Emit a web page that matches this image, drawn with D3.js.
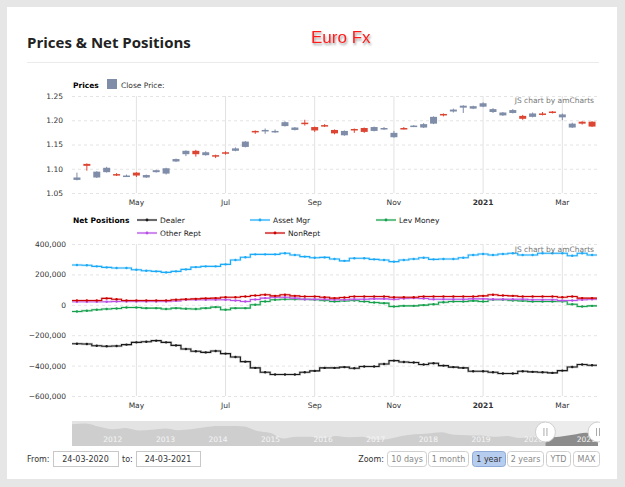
<!DOCTYPE html>
<html>
<head>
<meta charset="utf-8">
<script src="https://cdn.jsdelivr.net/npm/d3@7"></script>
<style>
body { margin: 0; background: #e6e6e6; }
svg { display: block; font-family: "DejaVu Sans", Verdana, sans-serif; }
</style>
</head>
<body>
<svg id="chart" width="625" height="487"></svg>
<script>
// weekly categories (week start, Monday)
const weeks = d3.timeMonday.range(new Date(2020, 2, 23), new Date(2021, 2, 23, 1));

const tickDates = ["2020-05-04", "2020-07-06", "2020-09-07", "2020-11-02", "2021-01-04", "2021-03-01"];
const tickLabels = ["May", "Jul", "Sep", "Nov", "2021", "Mar"];

const priceTicks = [1.05, 1.10, 1.15, 1.20, 1.25];
const netTicks = [-600000, -400000, -200000, 0, 200000, 400000];

// weekly candles
const open  = [1.077,1.110,1.082,1.093,1.089,1.084,1.092,1.082,1.093,1.090,1.115,1.130,1.137,1.128,1.128,1.134,1.137,1.145,1.178,1.178,1.176,1.188,1.180,1.195,1.186,1.190,1.180,1.169,1.182,1.184,1.178,1.182,1.165,1.184,1.187,1.185,1.193,1.213,1.218,1.226,1.224,1.228,1.217,1.210,1.215,1.209,1.207,1.214,1.218,1.206,1.185,1.197,1.197];
const high  = [1.092,1.111,1.095,1.104,1.091,1.088,1.093,1.088,1.098,1.102,1.121,1.138,1.139,1.136,1.129,1.136,1.144,1.157,1.179,1.183,1.181,1.198,1.186,1.201,1.187,1.192,1.181,1.179,1.183,1.185,1.187,1.186,1.178,1.186,1.190,1.194,1.208,1.214,1.224,1.231,1.230,1.237,1.225,1.217,1.223,1.211,1.216,1.217,1.219,1.214,1.195,1.198,1.198];
const low   = [1.076,1.096,1.081,1.092,1.085,1.083,1.083,1.081,1.092,1.088,1.114,1.126,1.125,1.127,1.122,1.129,1.136,1.144,1.172,1.172,1.174,1.187,1.179,1.189,1.176,1.186,1.171,1.168,1.174,1.174,1.177,1.180,1.164,1.181,1.186,1.184,1.192,1.208,1.216,1.215,1.223,1.227,1.215,1.209,1.214,1.201,1.206,1.210,1.214,1.200,1.184,1.191,1.186];
const close = [1.082,1.106,1.094,1.102,1.087,1.086,1.086,1.087,1.097,1.101,1.120,1.137,1.130,1.134,1.126,1.131,1.142,1.156,1.175,1.180,1.178,1.196,1.185,1.192,1.179,1.188,1.173,1.178,1.179,1.176,1.186,1.184,1.174,1.182,1.189,1.192,1.207,1.211,1.222,1.230,1.229,1.235,1.223,1.216,1.221,1.203,1.214,1.212,1.215,1.212,1.193,1.193,1.187];

// net positions, thousands of contracts
const dealer    = [-256,-258,-269,-273,-271,-262,-247,-243,-236,-247,-267,-291,-306,-313,-304,-321,-343,-374,-415,-444,-459,-459,-459,-444,-435,-415,-415,-410,-417,-406,-406,-389,-367,-376,-380,-393,-385,-400,-410,-415,-437,-437,-444,-452,-452,-437,-441,-444,-448,-433,-409,-393,-398];
const assetMgr  = [262,260,253,246,242,242,231,224,220,213,220,233,248,253,253,266,295,313,332,332,332,339,328,317,310,312,301,289,306,306,299,295,284,295,301,310,299,301,301,310,328,334,328,334,339,328,328,339,339,339,323,339,328];
const levMoney  = [-44,-39,-33,-28,-24,-18,-18,-22,-22,-28,-22,-26,-28,-22,-15,-33,-22,-22,0,22,33,37,37,37,33,28,22,26,28,22,15,11,-11,-7,-7,-2,4,17,22,22,26,22,33,33,28,26,22,22,22,22,4,-11,-7];
const otherRept = [20,20,20,20,22,22,22,22,22,22,26,33,33,33,33,33,28,22,35,44,50,50,44,37,37,37,33,33,37,37,39,39,37,41,44,41,37,37,37,37,39,39,37,37,37,37,33,33,33,28,28,33,37];
const nonRept   = [28,28,28,42,37,28,28,28,28,28,33,37,39,42,44,50,50,55,61,66,59,66,59,55,55,50,44,48,55,55,55,55,50,50,50,55,55,55,55,55,55,59,66,61,59,55,55,55,55,50,55,44,44];

const seriesNames = ["Dealer", "Asset Mgr", "Lev Money", "Other Rept", "NonRept"];

// navigator: quarterly close, 2011-2021
const navDates = ["2011-03-24","2011-06-30","2011-09-30","2011-12-30","2012-03-30","2012-06-29","2012-09-28","2012-12-31","2013-03-29","2013-06-28","2013-09-30","2013-12-31","2014-03-31","2014-06-30","2014-09-30","2014-12-31","2015-03-31","2015-06-30","2015-09-30","2015-12-31","2016-03-31","2016-06-30","2016-09-30","2016-12-30","2017-03-31","2017-06-30","2017-09-29","2017-12-29","2018-03-30","2018-06-29","2018-09-28","2018-12-31","2019-03-29","2019-06-28","2019-09-30","2019-12-31","2020-03-31","2020-06-30","2020-09-30","2020-12-31","2021-03-24"];
const navPrice = [1.42,1.44,1.36,1.30,1.33,1.27,1.29,1.32,1.28,1.30,1.35,1.38,1.38,1.37,1.26,1.21,1.08,1.12,1.12,1.09,1.14,1.11,1.12,1.05,1.07,1.14,1.18,1.20,1.23,1.17,1.16,1.15,1.12,1.14,1.09,1.12,1.10,1.12,1.17,1.22,1.19];
const navYears = [2012,2013,2014,2015,2016,2017,2018,2019,2020,2021];

const rangeFrom = "24-03-2020", rangeTo = "24-03-2021";
const zoomButtons = ["10 days", "1 month", "1 year", "2 years", "YTD", "MAX"];

const svg = d3.select("#chart");
const L = 72, R = 597;
const parse = d3.timeParse("%Y-%m-%d");

svg.append("rect").attr("x", 7).attr("y", 7).attr("width", 610).attr("height", 472).attr("fill", "#fff");

const defs = svg.append("defs");
defs.append("filter").attr("id", "shadow").attr("x", "-10%").attr("y", "-20%").attr("width", "130%").attr("height", "160%")
    .append("feDropShadow").attr("dx", 1).attr("dy", 2).attr("stdDeviation", 1.2).attr("flood-color", "#555").attr("flood-opacity", 0.6);

svg.append("text").attr("x", 27).attr("y", 47.5)
    .style("font-family", "'Open Sans', sans-serif").style("font-weight", 700).style("font-size", "15px").attr("fill", "#222")
    .text("Prices & Net Positions");
svg.append("text").attr("x", 311).attr("y", 43)
    .style("font-family", "'Liberation Sans', Arial, sans-serif").style("font-size", "17px").attr("fill", "#ff1e1e")
    .attr("filter", "url(#shadow)").text("Euro Fx");
svg.append("line").attr("x1", 27).attr("x2", 599).attr("y1", 62.5).attr("y2", 62.5).attr("stroke", "#ebebeb");

// shared x scale
const x = d3.scaleBand().domain(d3.range(weeks.length)).range([L, R]);
const cx = i => x(i) + x.bandwidth() / 2;
const tickIdx = tickDates.map(s => weeks.findIndex(w => w >= parse(s)));

function xAxis(top, bottom) {
    svg.append("g").attr("transform", `translate(0,${bottom})`)
        .call(d3.axisBottom(x).tickValues(tickIdx).tickSize(-(bottom - top)).tickFormat(""))
        .call(g => g.select(".domain").remove())
        .call(g => g.selectAll("line").attr("stroke", "#e2e2e2"));
    svg.append("g").attr("transform", `translate(0,${bottom + 4})`)
        .call(d3.axisBottom(x).tickValues(tickIdx).tickSize(0).tickFormat((d, i) => tickLabels[i]))
        .call(g => g.select(".domain").remove())
        .call(g => g.selectAll("text").attr("fill", "#333").style("font-size", "7.5px")
            .style("font-family", "'DejaVu Sans', Verdana, sans-serif")
            .style("font-weight", (d, i) => tickLabels[i] === "2021" ? "bold" : "normal"));
}

function yAxis(y, ticks, fmt, labelX) {
    svg.append("g").attr("transform", `translate(${L},0)`)
        .call(d3.axisLeft(y).tickValues(ticks).tickSize(-(R - L)).tickFormat(""))
        .call(g => g.select(".domain").remove())
        .call(g => g.selectAll("line").attr("stroke", "#e4e4e4").attr("stroke-dasharray", "3,3"));
    svg.append("g").attr("transform", `translate(${labelX},0)`)
        .call(d3.axisLeft(y).tickValues(ticks).tickSize(0).tickPadding(0).tickFormat(fmt))
        .call(g => g.select(".domain").remove())
        .call(g => g.selectAll("text").attr("fill", "#333").style("font-size", "7.5px")
            .style("font-family", "'DejaVu Sans', Verdana, sans-serif"));
}

function credit(yPos) {
    svg.append("text").attr("x", 594).attr("y", yPos).attr("text-anchor", "end")
        .style("font-size", "7.5px").attr("fill", "#777").text("JS chart by amCharts");
}

// prices panel
const yP = d3.scaleLinear().domain([1.05, 1.25]).range([193, 96]);
yAxis(yP, priceTicks, d3.format(".2f"), 63);
xAxis(96, 193);

svg.append("text").attr("x", 73).attr("y", 88).style("font-size", "7.5px").style("font-weight", "bold").text("Prices");
svg.append("rect").attr("x", 107).attr("y", 79).attr("width", 10).attr("height", 10).attr("fill", "#7f8da9");
svg.append("text").attr("x", 121).attr("y", 88).style("font-size", "7.5px").attr("fill", "#333").text("Close Price:");

const candleColor = i => close[i] >= open[i] ? "#7f8da9" : "#dd4533";
const candles = svg.append("g").selectAll("g").data(d3.range(weeks.length)).join("g");
candles.append("line")
    .attr("x1", i => cx(i)).attr("x2", i => cx(i))
    .attr("y1", i => yP(high[i])).attr("y2", i => yP(low[i]))
    .attr("stroke", candleColor).attr("stroke-width", 1);
candles.append("rect")
    .attr("x", i => cx(i) - 3.5).attr("width", 7)
    .attr("y", i => yP(Math.max(open[i], close[i])))
    .attr("height", i => Math.max(1.5, yP(Math.min(open[i], close[i])) - yP(Math.max(open[i], close[i]))))
    .attr("fill", candleColor);
credit(103);

// net positions panel
const yN = d3.scaleLinear().domain([-600000, 400000]).range([396, 244]);
yAxis(yN, netTicks, d3.format(","), 66);
xAxis(244, 396);

const colors = ["#1a1a1a", "#1aaaf7", "#15a04c", "#b94ee6", "#cc0000"];
const halos = ["#999999", "#a6deff", "#95d6ad", "#ddb0f2", "#f09a9a"];
const seriesData = [dealer, assetMgr, levMoney, otherRept, nonRept];

const step = d3.line().curve(d3.curveStep).x(d => d[0]).y(d => yN(d[1] * 1000));
seriesData.forEach((vals, s) => {
    const pts = [[L, vals[0]], ...vals.map((v, i) => [cx(i), v]), [R, vals[vals.length - 1]]];
    const g = svg.append("g");
    g.append("path").attr("d", step(pts)).attr("fill", "none").attr("stroke", halos[s]).attr("stroke-width", 2.4).attr("stroke-opacity", 0.5);
    g.append("path").attr("d", step(pts)).attr("fill", "none").attr("stroke", colors[s]).attr("stroke-width", 1.1);
    g.selectAll("circle").data(vals).join("circle")
        .attr("cx", (d, i) => cx(i)).attr("cy", d => yN(d * 1000)).attr("r", 1.2).attr("fill", colors[s]);
});
credit(252);

svg.append("text").attr("x", 73).attr("y", 223).style("font-size", "7.5px").style("font-weight", "bold").text("Net Positions");
const legendPos = [[137, 220], [250, 220], [376, 220], [137, 233], [265, 233]];
seriesNames.forEach((name, s) => {
    const [lx, ly] = legendPos[s];
    svg.append("line").attr("x1", lx).attr("x2", lx + 20).attr("y1", ly).attr("y2", ly).attr("stroke", halos[s]).attr("stroke-width", 2.4).attr("stroke-opacity", 0.5);
    svg.append("line").attr("x1", lx).attr("x2", lx + 20).attr("y1", ly).attr("y2", ly).attr("stroke", colors[s]).attr("stroke-width", 1.1);
    svg.append("circle").attr("cx", lx + 10).attr("cy", ly).attr("r", 1.4).attr("fill", colors[s]);
    svg.append("text").attr("x", lx + 23).attr("y", ly + 3).style("font-size", "7.5px").attr("fill", "#222").text(name);
});

// navigator
const nT = 421, nB = 446, nR = 598;
const xNav = d3.scaleTime().domain([parse("2011-03-24"), parse("2021-03-24")]).range([L, nR]);
const yNav = d3.scaleLinear().domain([0.9, 1.5]).range([nB, nT]);
const navPts = navDates.map((d, i) => [parse(d), navPrice[i]]);
const area = d3.area().curve(d3.curveMonotoneX).x(d => xNav(d[0])).y0(nB).y1(d => yNav(d[1]));
const selX0 = xNav(parse("2020-03-24")), selX1 = xNav(parse("2021-03-24"));

defs.append("clipPath").attr("id", "navclip").append("rect").attr("x", L).attr("y", nT - 12).attr("width", 600 - L).attr("height", nB - nT + 24);
defs.append("clipPath").attr("id", "selclip").append("rect").attr("x", selX0).attr("y", nT).attr("width", selX1 - selX0).attr("height", nB - nT);

const nav = svg.append("g").attr("clip-path", "url(#navclip)");
nav.append("rect").attr("x", L).attr("y", nT).attr("width", nR - L).attr("height", nB - nT).attr("fill", "#e3e3e3");
nav.append("path").attr("d", area(navPts)).attr("fill", "#cecece");
nav.append("rect").attr("x", selX0).attr("y", nT).attr("width", selX1 - selX0).attr("height", nB - nT).attr("fill", "#ececec");
nav.append("path").attr("d", area(navPts)).attr("fill", "#8c8c8c").attr("clip-path", "url(#selclip)");
nav.selectAll("text.yr").data(navYears).join("text").attr("class", "yr")
    .attr("x", d => xNav(new Date(d, 0, 1))).attr("y", 442).attr("text-anchor", "middle")
    .style("font-size", "7.5px").attr("fill", "#f6f6f6").text(d => d);
[selX0, selX1].forEach(hx => {
    nav.append("circle").attr("cx", hx).attr("cy", 432).attr("r", 10).attr("fill", "#fff").attr("stroke", "#d0d0d0");
    [-1.5, 1.5].forEach(o => nav.append("line").attr("x1", hx + o).attr("x2", hx + o).attr("y1", 428).attr("y2", 436).attr("stroke", "#aaa"));
});

// range inputs and zoom buttons
const ctrlY = 451, ctrlH = 15;
svg.append("text").attr("x", 27).attr("y", 462).style("font-size", "8px").attr("fill", "#333").text("From:");
svg.append("text").attr("x", 122).attr("y", 462).style("font-size", "8px").attr("fill", "#333").text("to:");
[[53, 118, rangeFrom], [136, 200, rangeTo]].forEach(([a, b, t]) => {
    svg.append("rect").attr("x", a + 0.5).attr("y", ctrlY + 0.5).attr("width", b - a).attr("height", ctrlH).attr("fill", "#fff").attr("stroke", "#c8c8c8");
    svg.append("text").attr("x", (a + b) / 2).attr("y", 462).attr("text-anchor", "middle").style("font-size", "8px").attr("fill", "#333").text(t);
});
svg.append("text").attr("x", 384).attr("y", 462).attr("text-anchor", "end").style("font-size", "8px").attr("fill", "#333").text("Zoom:");
const btnPos = [[387, 426], [428, 468], [472, 505], [507, 543], [546, 570], [573, 599]];
zoomButtons.forEach((b, i) => {
    const [a, e] = btnPos[i];
    const sel = b === "1 year";
    svg.append("rect").attr("x", a + 0.5).attr("y", ctrlY + 0.5).attr("width", e - a).attr("height", ctrlH).attr("rx", 3)
        .attr("fill", sel ? "#b7cdf0" : "#fff").attr("stroke", sel ? "#8faad6" : "#cfcfcf");
    svg.append("text").attr("x", (a + e) / 2 + 0.5).attr("y", 462).attr("text-anchor", "middle").style("font-size", "8px")
        .attr("fill", sel ? "#333" : "#888").text(b);
});
</script>
</body>
</html>
